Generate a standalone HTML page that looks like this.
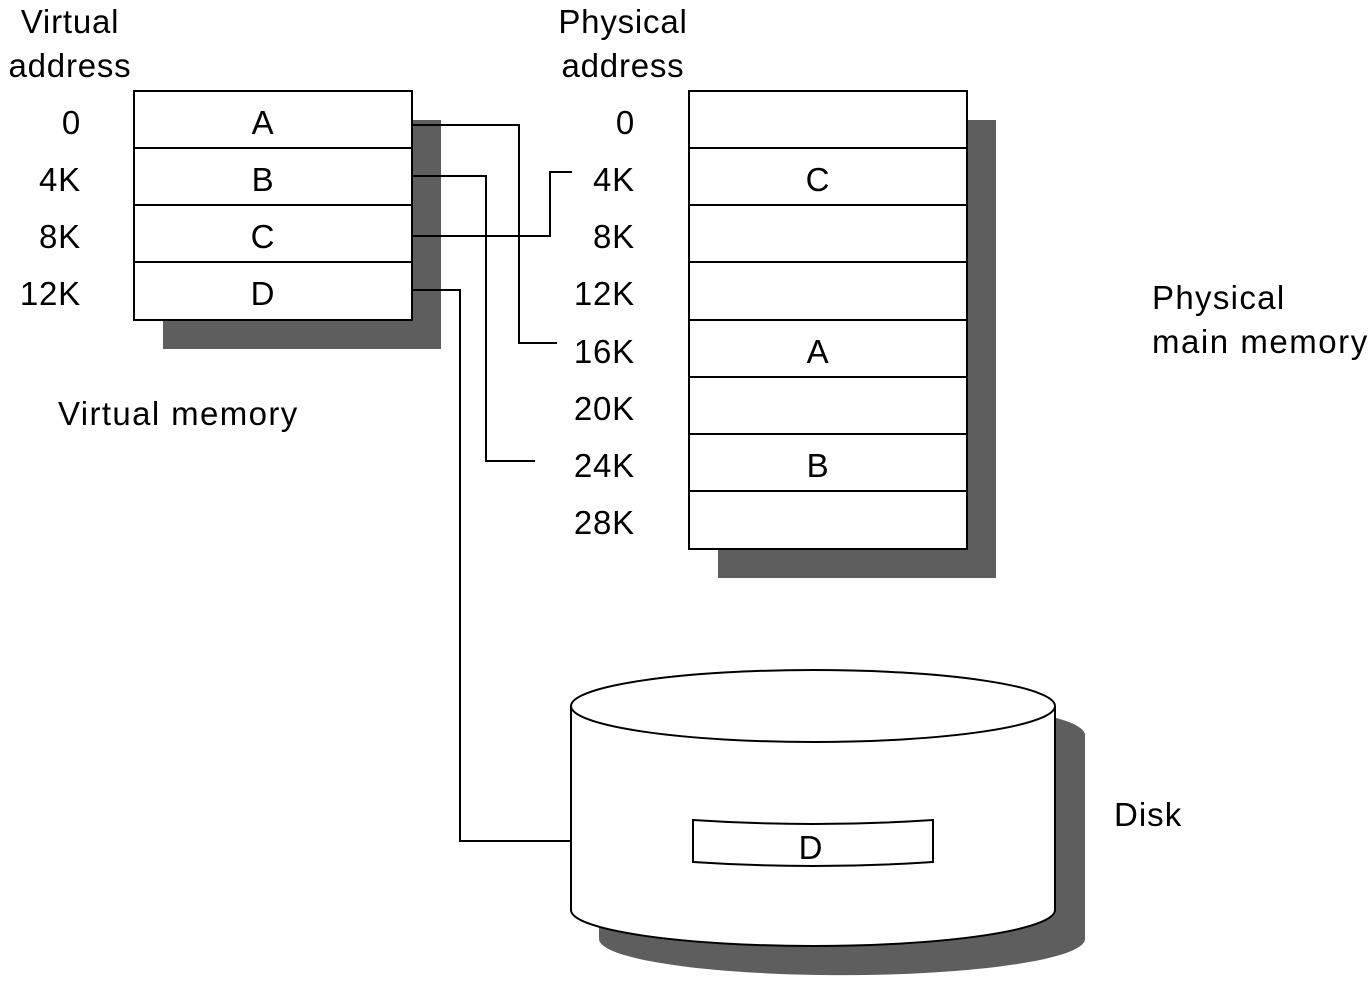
<!DOCTYPE html>
<html><head><style>
html,body{margin:0;padding:0;background:#fff;}
svg text{font-family:"Liberation Sans",sans-serif;font-size:33px;letter-spacing:0.8px;fill:#000;}
</style></head><body>
<svg width="1372" height="979" viewBox="0 0 1372 979" xmlns="http://www.w3.org/2000/svg">
<rect x="163" y="120" width="278" height="229" fill="#5e5e5e"/>
<rect x="718" y="120" width="278" height="458" fill="#5e5e5e"/>
<path d="M599,735 A242,36 0 0 1 1085,735 L1085,939 A242,36 0 0 1 599,939 Z" fill="#5e5e5e"/>
<g fill="#fff" stroke="#000" stroke-width="2">
<rect x="134" y="91" width="278" height="229"/>
<line x1="134" y1="148" x2="412" y2="148"/>
<line x1="134" y1="205" x2="412" y2="205"/>
<line x1="134" y1="262" x2="412" y2="262"/>
<rect x="689" y="91" width="278" height="458"/>
<line x1="689" y1="148" x2="967" y2="148"/>
<line x1="689" y1="205" x2="967" y2="205"/>
<line x1="689" y1="262" x2="967" y2="262"/>
<line x1="689" y1="320" x2="967" y2="320"/>
<line x1="689" y1="377" x2="967" y2="377"/>
<line x1="689" y1="434" x2="967" y2="434"/>
<line x1="689" y1="491" x2="967" y2="491"/>
<path d="M571,706 A242,36 0 0 1 1055,706 L1055,910 A242,36 0 0 1 571,910 Z"/>
<path d="M571,706 A242,36 0 0 0 1055,706" fill="none"/>
<path d="M693,820 Q813,828 933,820 L933,862 Q813,870 693,862 Z"/>
</g>
<g fill="none" stroke="#000" stroke-width="2">
<polyline points="412,125 519,125 519,343 557,343"/>
<polyline points="412,176 486,176 486,461 535,461"/>
<polyline points="412,236 550,236 550,172 572,172"/>
<polyline points="412,290 460,290 460,841 571,841"/>
</g>
<text x="70" y="33" text-anchor="middle">Virtual</text>
<text x="70" y="77" text-anchor="middle">address</text>
<text x="623" y="33" text-anchor="middle">Physical</text>
<text x="623" y="77" text-anchor="middle">address</text>
<g text-anchor="end">
<text x="81" y="134">0</text>
<text x="81" y="191">4K</text>
<text x="81" y="248">8K</text>
<text x="81" y="305">12K</text>
<text x="635" y="134">0</text>
<text x="635" y="191">4K</text>
<text x="635" y="248">8K</text>
<text x="635" y="305">12K</text>
<text x="635" y="363">16K</text>
<text x="635" y="420">20K</text>
<text x="635" y="477">24K</text>
<text x="635" y="534">28K</text>
</g>
<g text-anchor="middle">
<text x="263" y="134">A</text>
<text x="263" y="191">B</text>
<text x="263" y="248">C</text>
<text x="263" y="305">D</text>
<text x="818" y="191">C</text>
<text x="818" y="363">A</text>
<text x="818" y="477">B</text>
<text x="811" y="859">D</text>
</g>
<text x="58" y="425" textLength="240">Virtual memory</text>
<text x="1152" y="309" textLength="133">Physical</text>
<text x="1152" y="353" textLength="216">main memory</text>
<text x="1114" y="826" textLength="68">Disk</text>
</svg>
</body></html>
